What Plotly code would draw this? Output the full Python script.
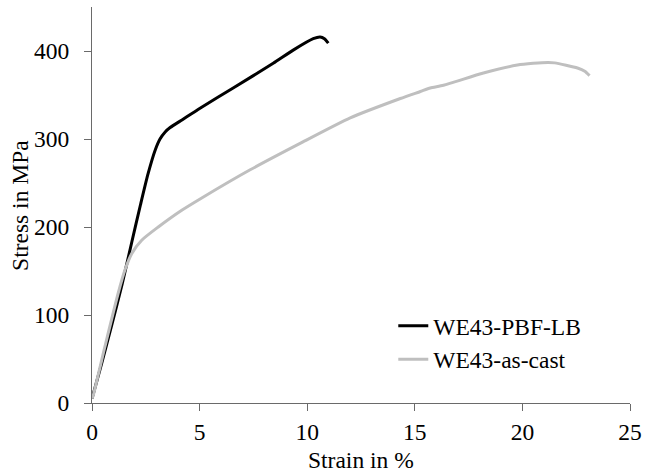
import plotly.graph_objects as go

pbf_strain = [0.0, 0.45, 0.91, 1.4, 1.85, 2.25, 2.6, 2.93, 3.16, 3.4, 3.63, 4.2, 5.02, 6.56, 8.42, 9.35, 10.28, 10.6, 10.8, 10.98]
pbf_stress = [5, 45, 88, 135, 183, 225, 260, 287, 300, 308, 313, 322, 335, 358, 386, 401, 414, 416, 414, 409]

cast_strain = [0.0, 0.06, 0.6, 1.22, 1.53, 1.85, 2.31, 3.08, 4.17, 5.1, 7.35, 9.67, 12.0, 14.33, 15.26, 15.72, 16.33, 18.19, 19.77, 20.5, 21.2, 21.5, 22.56, 22.9, 23.12]
cast_stress = [5, 9, 64, 125, 151, 170, 185, 200, 219, 233, 265, 295, 324, 346, 354, 358, 361, 375, 384, 386, 387, 386.5, 380.7, 377, 372]

x_ticks = [0, 5, 10, 15, 20, 25]
y_ticks = [0, 100, 200, 300, 400]
x_title = "Strain in %"
y_title = "Stress in MPa"

FONT = "Liberation Serif"
FS = 23.5
AXC = "#6a6a6a"

fig = go.Figure()
fig.add_trace(go.Scatter(x=pbf_strain, y=pbf_stress, mode="lines", name="WE43-PBF-LB",
                         line=dict(color="#000000", width=3, shape="spline", smoothing=0.6)))
fig.add_trace(go.Scatter(x=cast_strain, y=cast_stress, mode="lines", name="WE43-as-cast",
                         line=dict(color="#bfbfbf", width=3, shape="spline", smoothing=0.6)))

fig.update_layout(
    width=645, height=475,
    margin=dict(l=92, r=15, t=7, b=72),
    paper_bgcolor="white", plot_bgcolor="white",
    font=dict(family=FONT, size=FS, color="#000000"),
    showlegend=True,
    legend=dict(x=0.56, y=0.25, xanchor="left", yanchor="top",
                bgcolor="rgba(0,0,0,0)", borderwidth=0,
                font=dict(family=FONT, size=FS), tracegroupgap=0, itemwidth=30),
    xaxis=dict(range=[0, 25], tickvals=x_ticks, ticktext=[str(v) for v in x_ticks],
               automargin=False,
               showgrid=False, zeroline=False, showline=True, linecolor=AXC, linewidth=1,
               ticks="outside", ticklen=7, tickcolor=AXC, tickwidth=1, ticklabelstandoff=1,
               tickfont=dict(family=FONT, size=FS)),
    yaxis=dict(range=[0, 450], tickvals=y_ticks, ticktext=[str(v) for v in y_ticks],
               automargin=False,
               showgrid=False, zeroline=False, showline=True, linecolor=AXC, linewidth=1,
               ticks="outside", ticklen=7, tickcolor=AXC, tickwidth=1, ticklabelstandoff=10,
               tickfont=dict(family=FONT, size=FS)),
    annotations=[
        dict(text=x_title, xref="paper", yref="paper", x=0.5, y=-0.144,
             xanchor="center", yanchor="middle", showarrow=False,
             font=dict(family=FONT, size=FS)),
        dict(text=y_title, xref="paper", yref="paper", x=-0.134, y=0.5,
             xanchor="center", yanchor="middle", showarrow=False, textangle=-90,
             font=dict(family=FONT, size=FS)),
    ],
)

fig.write_html("out.html")
